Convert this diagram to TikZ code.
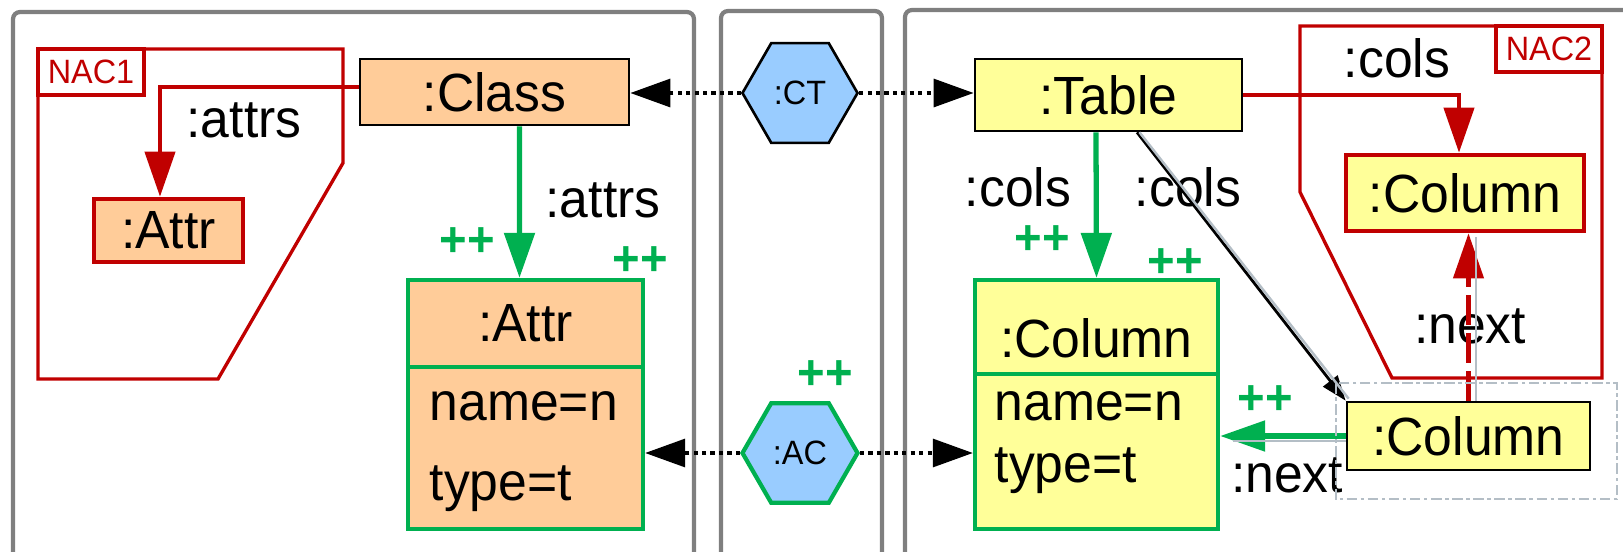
\documentclass[tikz,border=0pt]{standalone}
\usepackage{fontspec}
\setmainfont[FakeStretch=0.96]{Liberation Sans}
\usetikzlibrary{arrows.meta,shapes.geometric}
\definecolor{peach}{HTML}{FFCC99}
\definecolor{lemon}{HTML}{FFFF99}
\definecolor{sky}{HTML}{99CCFF}
\definecolor{grn}{HTML}{00B050}
\definecolor{nacred}{HTML}{C00000}
\definecolor{panelgray}{HTML}{7F7F7F}
\definecolor{ghostgray}{HTML}{B4BEC6}
\begin{document}
\begin{tikzpicture}[x=0.01cm, y=-0.01cm,
  every node/.style={font=\fontsize{15.3}{18}\selectfont, inner sep=0pt},
  obj/.style={draw, line width=0.75pt},
  newobj/.style={draw=grn, line width=1.2pt},
  nacobj/.style={draw=nacred, line width=1.3pt},
  hexa/.style={draw, regular polygon, regular polygon sides=6, minimum size=1.15cm,
    fill=sky, line width=0.75pt, font=\fontsize{9.6}{11}\selectfont},
  plus/.style={text=grn, font=\bfseries\fontsize{14}{16}\selectfont},
  nac/.style={draw=nacred, line width=0.95pt},
  naclabel/.style={nac, text=nacred, minimum width=1.06cm, minimum height=0.46cm,
    font=\fontsize{9.6}{11}\selectfont},
  panel/.style={draw=panelgray, line width=1.2pt, rounded corners=2pt},
  redarr/.style={draw=nacred, line width=1.2pt, -{Triangle[length=0.45cm,width=0.3cm]}},
  grnarr/.style={draw=grn, line width=1.5pt, -{Triangle[length=0.45cm,width=0.3cm]}},
  blackarr/.style={line width=0.8pt, -{Triangle[length=0.25cm,width=0.18cm]}},
  trace/.style={line width=0.9pt, dash pattern=on 1.2pt off 1.2pt,
    -{Triangle[length=0.4cm,width=0.28cm]}},
  ghost/.style={draw=ghostgray, line width=0.7pt}]
\useasboundingbox (0,0) rectangle (1623,551);
\clip (0,0) rectangle (1623,551);
\draw[panel] (13,600) -- (13,12) -- (694,12) -- (694,600);
\draw[panel] (721,600) -- (721,11) -- (882,11) -- (882,600);
\draw[panel] (905,600) -- (905,10) -- (1700,10);
\draw[nac] (38,49) -- (343,49) -- (343,163) -- (218,379) -- (38,379) -- cycle;
\draw[nac] (1300,26) -- (1602,26) -- (1602,378) -- (1392,378) -- (1300,192) -- cycle;
\node[naclabel] (nac1) at (91,72) {NAC1};
\node[naclabel] (nac2) at (1549,49) {NAC2};
\node[obj, fill=peach, minimum width=2.69cm, minimum height=0.66cm] (cls) at (494.5,92) {:Class};
\node[nacobj, fill=peach, minimum width=1.49cm, minimum height=0.63cm] (nattr) at (168.5,230.5) {:Attr};
\node[newobj, fill=peach, minimum width=2.35cm, minimum height=0.87cm] (attrhead) at (525.5,323.5) {:Attr};
\node[newobj, fill=peach, minimum width=2.35cm, minimum height=1.62cm] (attrbody) at (525.5,448) {};
\node[anchor=base west] (attrname) at (429,420) {name=n};
\node[anchor=base west] (attrtype) at (429,500) {type=t};
\node[hexa] (ct) at (800,93) {:CT};
\node[hexa, draw=grn, line width=1.2pt] (ac) at (800,453) {:AC};
\node[obj, fill=lemon, minimum width=2.67cm, minimum height=0.72cm] (tbl) at (1108.5,95) {:Table};
\node[nacobj, fill=lemon, minimum width=2.38cm, minimum height=0.76cm] (ncol) at (1465,193) {:Column};
\node[newobj, fill=lemon, minimum width=2.43cm, minimum height=0.94cm] (colhead) at (1096.5,327) {};
\node (colheadtxt) at (1096.5,338) {:Column};
\node[newobj, fill=lemon, minimum width=2.43cm, minimum height=1.55cm] (colbody) at (1096.5,451.5) {};
\node[anchor=base west] (colname) at (994,420) {name=n};
\node[anchor=base west] (coltype) at (994,482) {type=t};
\node[obj, fill=lemon, minimum width=2.43cm, minimum height=0.68cm] (col2) at (1468.5,436) {:Column};
\node (lattrs1) at (244,120) {:attrs};
\node (lattrs2) at (603,200) {:attrs};
\node (lcols1) at (1018,187) {:cols};
\node (lcols2) at (1188,187) {:cols};
\node (lcols3) at (1397,58) {:cols};
\node (lnext1) at (1470,326) {:next};
\node (lnext2) at (1287,475) {:next};
\node[plus] (pp1) at (467,242) {++};
\node[plus] (pp2) at (640,261) {++};
\node[plus] (pp3) at (825,375) {++};
\node[plus] (pp4) at (1042,240) {++};
\node[plus] (pp5) at (1175,263) {++};
\node[plus] (pp6) at (1265,400) {++};
\draw[trace] (ct.west) -- (ct.west -| cls.east);
\draw[trace] (ct.east) -- (ct.east -| tbl.west);
\draw[trace] (ac.west) -- (ac.west -| attrbody.east);
\draw[trace] (ac.east) -- (ac.east -| colbody.west);
\draw[redarr] ([yshift=0.05cm]cls.west) -| ([xshift=-0.085cm]nattr.north);
\draw[grnarr] ([xshift=0.25cm]cls.south) -- ([xshift=-0.06cm]attrhead.north);
\draw[grnarr] ([xshift=-0.125cm]tbl.south) -- (colhead.north);
\draw[redarr] (tbl.east) -| ([xshift=-0.06cm]ncol.north);
\draw[redarr, dash pattern=on 0.3cm off 0.08cm] (col2.north) -- (col2.north |- ncol.south);
\draw[ghost] ([xshift=0.075cm]col2.north) -- ([xshift=0.075cm,yshift=-0.04cm]col2.north |- ncol.south);
\draw[blackarr] ([xshift=0.285cm]tbl.south) -- (col2.north west);
\draw[ghost] ([xshift=0.31cm]tbl.south) -- ([xshift=0.03cm,yshift=0.02cm]col2.north west);
\draw[grnarr] (col2.west) -- (col2.west -| colbody.east);
\draw[ghost] ([yshift=-0.05cm]col2.west) -- ++(-113,0);
\draw[ghost, line width=0.5pt, dash pattern=on 3pt off 1pt on 1pt off 1pt] (1336,383) rectangle (1617,499);
\end{tikzpicture}
\end{document}
